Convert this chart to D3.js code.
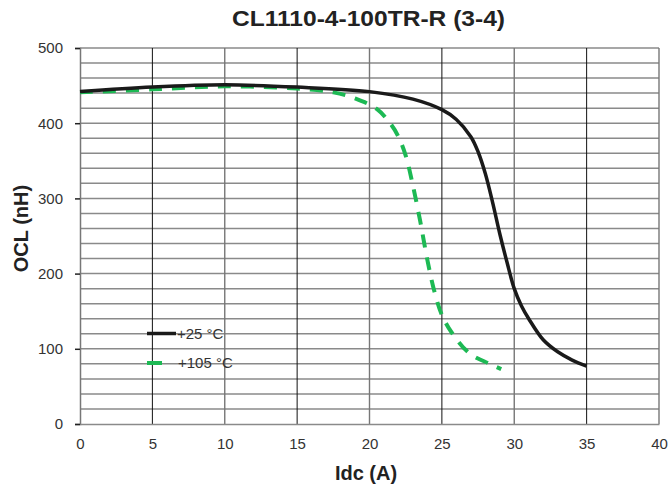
<!DOCTYPE html>
<html><head><meta charset="utf-8">
<script src="https://cdn.jsdelivr.net/npm/d3@7"></script>
<style>body{margin:0;background:#fff}svg{display:block}text{font-family:"Liberation Sans",Arial,sans-serif}</style>
</head><body>
<script>
const title = "CL1110-4-100TR-R (3-4)";
const xTicks = [0,5,10,15,20,25,30,35,40];
const yTicks = [0,100,200,300,400,500];
const seriesNames = ["+25 °C", "+105 °C"];
const idc25 = [0,5,10,15,20,23,25,26,27,27.5,28,28.5,29,29.5,30,30.5,31,32,33,34,35];
const ocl25 = [442,448,451,448,442,432,418,405,382,362,333,295,253,215,180,157,140,112,96,85,77];
const idc105 = [0,5,10,15,17.5,19,20.5,21.5,22,22.5,23,23.5,24,24.5,25,25.7,26.9,28.3,29.1];
const ocl105 = [441,445,449,446,441,433,419,398,382,357,317,270,218,175,145,121,94,80,73];

const W = 669, H = 491;
const m = {l:80, r:10, t:48, b:67};
const FF = "Liberation Sans, Arial, sans-serif";
const svg = d3.select("body").append("svg").attr("width",W).attr("height",H);
const x = d3.scaleLinear().domain([0,40]).range([m.l, W-m.r]);
const y = d3.scaleLinear().domain([0,500]).range([H-m.b, m.t]);

// horizontal grid every 20
const hg = d3.range(20, 501, 20);
svg.append("g").selectAll("line").data(hg).join("line")
  .attr("x1", x(0)).attr("x2", x(40)).attr("y1", d=>y(d)).attr("y2", d=>y(d))
  .attr("stroke", "#8a8a8a").attr("stroke-width", 1.5);
// vertical grid
svg.append("g").selectAll("line").data(xTicks.slice(1)).join("line")
  .attr("x1", d=>x(d)).attr("x2", d=>x(d)).attr("y1", y(0)).attr("y2", y(500))
  .attr("stroke", d => d % 10 === 0 ? "#777" : "#111").attr("stroke-width", d => d % 10 === 0 ? 1.4 : 1);

// axes
const ya = svg.append("g").attr("transform", `translate(${x(0)},0)`)
  .call(d3.axisLeft(y).tickValues(yTicks).tickSize(5).tickPadding(12));
ya.select(".domain").attr("stroke","#777").attr("stroke-width",1.5);
ya.selectAll(".tick line").attr("stroke","#222").attr("stroke-width",1.5);
ya.selectAll("text").attr("font-size",15).attr("fill","#333").attr("font-family",FF);

const xa = svg.append("g").attr("transform", `translate(0,${y(0)})`)
  .call(d3.axisBottom(x).tickValues(xTicks).tickSize(0).tickPadding(14));
xa.select(".domain").attr("stroke","#8a8a8a").attr("stroke-width",1.5);
xa.selectAll("text").attr("font-size",15).attr("fill","#333").attr("font-family",FF);

// lines
const line = d3.line().x(d=>x(d[0])).y(d=>y(d[1])).curve(d3.curveCatmullRom.alpha(0.5));
svg.append("path").datum(idc105.map((v,i)=>[v,ocl105[i]]))
  .attr("d", line).attr("fill","none").attr("stroke","#1db954").attr("stroke-width",4)
  .attr("stroke-dasharray","13,10");
svg.append("path").datum(idc25.map((v,i)=>[v,ocl25[i]]))
  .attr("d", line).attr("fill","none").attr("stroke","#1a1a1a").attr("stroke-width",3.5);

// legend
const lg = svg.append("g");
lg.append("line").attr("x1",147).attr("x2",176).attr("y1",333.5).attr("y2",333.5).attr("stroke","#1a1a1a").attr("stroke-width",3.5);
lg.append("text").attr("x",177).attr("y",338.5).attr("font-size",15).attr("fill","#333").text(seriesNames[0]);
lg.append("line").attr("x1",147).attr("x2",162).attr("y1",363).attr("y2",363).attr("stroke","#1db954").attr("stroke-width",4);
lg.append("text").attr("x",178).attr("y",368).attr("font-size",15).attr("fill","#333").text(seriesNames[1]);

// titles
svg.append("text").attr("x",368.5).attr("y",26).attr("text-anchor","middle")
  .attr("font-size",21.5).attr("font-weight","bold").attr("fill","#222")
  .attr("textLength",273).attr("lengthAdjust","spacingAndGlyphs").text(title);
svg.append("text").attr("x",366).attr("y",480).attr("text-anchor","middle")
  .attr("font-size",20).attr("font-weight","bold").attr("fill","#222").text("Idc (A)");
svg.append("text").attr("transform","translate(28,228.5) rotate(-90)").attr("text-anchor","middle")
  .attr("font-size",20).attr("font-weight","bold").attr("fill","#222").text("OCL (nH)");
</script>
</body></html>
